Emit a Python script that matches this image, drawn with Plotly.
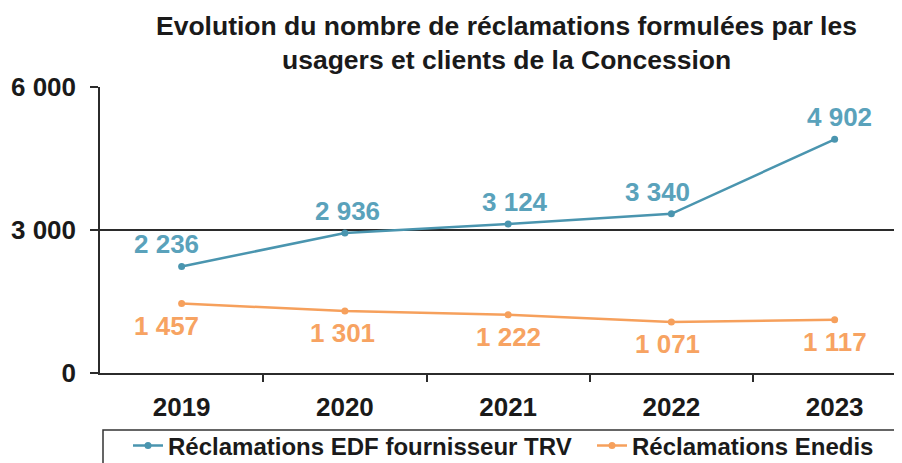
import plotly.graph_objects as go

years = ["2019", "2020", "2021", "2022", "2023"]
edf_trv = [2236, 2936, 3124, 3340, 4902]
enedis = [1457, 1301, 1222, 1071, 1117]
series_names = ["Réclamations EDF fournisseur TRV", "Réclamations Enedis"]
y_ticks = [0, 3000, 6000]
y_tick_labels = ["0", "3 000", "6 000"]
title_lines = ["Evolution du nombre de réclamations formulées par les",
               "usagers et clients de la Concession"]

def fmt(v):
    return f"{v:,}".replace(",", " ")

BLUE = "#4a95af"
BLUE_TXT = "#5aa2bb"
ORANGE = "#f6a05c"
ORANGE_TXT = "#f7a362"
DARK = "#2b2b2b"
FONT = "Liberation Sans, Arial, sans-serif"

# page has an 8px body margin; work in page pixels and convert
OFF = 8
PAGE_W, PAGE_H = 902, 463
W, H = PAGE_W - OFF, PAGE_H - OFF
PLOT_L, PLOT_R, PLOT_T, PLOT_B = 100, 902, 87, 373   # page pixels
ML = PLOT_L - OFF
MR = (PAGE_W - OFF) - (PLOT_R - OFF)
MT = PLOT_T - OFF
MB = H - (PLOT_B - OFF)
PW = W - ML - MR
PH = H - MT - MB

def px_to_paper_x(px):
    return (px - PLOT_L) / PW

def px_to_paper_y(py):
    return (PLOT_B - py) / PH

fig = go.Figure()
fig.add_trace(go.Scatter(
    x=list(range(len(years))), y=edf_trv, name=series_names[0],
    mode="lines+markers", line=dict(color=BLUE, width=2.5),
    marker=dict(size=7, color=BLUE), legend="legend"))
fig.add_trace(go.Scatter(
    x=list(range(len(years))), y=enedis, name=series_names[1],
    mode="lines+markers", line=dict(color=ORANGE, width=2.5),
    marker=dict(size=7, color=ORANGE), legend="legend2"))

blue_dx = [-15, 3, 7, -14, 5]
orange_dx = [-15, -2, 0, -4, 0]
for i, v in enumerate(edf_trv):
    fig.add_annotation(x=i, y=v, text=fmt(v), showarrow=False,
                       xshift=blue_dx[i], yshift=22,
                       font=dict(family=FONT, size=26, color=BLUE_TXT, weight="bold"))
for i, v in enumerate(enedis):
    fig.add_annotation(x=i, y=v, text=fmt(v), showarrow=False,
                       xshift=orange_dx[i], yshift=-22,
                       font=dict(family=FONT, size=26, color=ORANGE_TXT, weight="bold"))

fig.add_annotation(xref="paper", yref="paper", x=px_to_paper_x(506), y=px_to_paper_y(26),
                   text=title_lines[0], showarrow=False, xanchor="center", yanchor="middle",
                   font=dict(family=FONT, size=26.5, color="#1a1a1a", weight="bold"))
fig.add_annotation(xref="paper", yref="paper", x=px_to_paper_x(506), y=px_to_paper_y(60),
                   text=title_lines[1], showarrow=False, xanchor="center", yanchor="middle",
                   font=dict(family=FONT, size=26.5, color="#1a1a1a", weight="bold"))

# legend border
fig.add_shape(type="rect", xref="paper", yref="paper",
              x0=px_to_paper_x(103), x1=px_to_paper_x(897),
              y0=px_to_paper_y(430), y1=px_to_paper_y(480),
              line=dict(color="#333333", width=1.5), fillcolor="rgba(0,0,0,0)")

legend_font = dict(family=FONT, size=24, color="#1a1a1a", weight="bold")
fig.update_layout(
    width=W, height=H,
    margin=dict(l=ML, r=MR, t=MT, b=MB, autoexpand=False),
    paper_bgcolor="white", plot_bgcolor="white",
    showlegend=True,
    legend=dict(orientation="h", x=px_to_paper_x(128), y=px_to_paper_y(446),
                xanchor="left", yanchor="middle",
                font=legend_font, bgcolor="rgba(0,0,0,0)"),
    legend2=dict(orientation="h", x=px_to_paper_x(592), y=px_to_paper_y(446),
                 xanchor="left", yanchor="middle",
                 font=legend_font, bgcolor="rgba(0,0,0,0)"),
    font=dict(family=FONT),
)
fig.update_xaxes(
    range=[-0.5, -0.5 + PW / 163.25],
    tickvals=list(range(len(years))), ticktext=years,
    tickfont=dict(family=FONT, size=26, color="#1a1a1a", weight="bold"),
    showgrid=False, zeroline=False, automargin=False,
    showline=True, linecolor=DARK, linewidth=1.5,
    ticks="", ticklabelstandoff=10,
)
fig.update_xaxes(minor=dict(tickvals=[0.5, 1.5, 2.5, 3.5], ticks="outside",
                            ticklen=7, tickcolor=DARK, tickwidth=1.5))
fig.update_yaxes(
    range=[0, 6000], tickvals=y_ticks, ticktext=y_tick_labels,
    tickfont=dict(family=FONT, size=26, color="#1a1a1a", weight="bold"),
    showgrid=True, gridcolor=DARK, gridwidth=1.5,
    zeroline=False, showline=True, linecolor=DARK, linewidth=1.5, automargin=False,
    ticks="outside", ticklen=8, tickcolor=DARK, tickwidth=1.5,
    ticklabelstandoff=9,
)

fig.write_html("out.html")
